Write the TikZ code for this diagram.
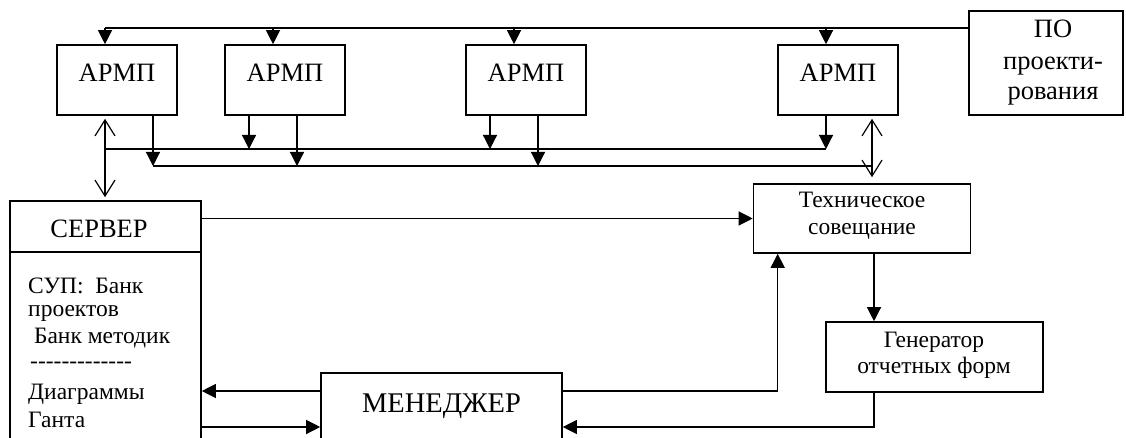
\documentclass[tikz,border=0pt]{standalone}
\usepackage{fontspec}
\setmainfont{Liberation Serif}
\usetikzlibrary{arrows.meta}
\newcommand{\hyph}{-{}}
\begin{document}
\begin{tikzpicture}[x=1pt,y=-1pt,
  box/.style={draw, line width=1.6pt, inner sep=0pt},
  conn/.style={line width=1.2pt},
  tri/.style={-{Triangle[length=14pt,width=14pt]}},
  dbl/.style={{Straight Barb[length=16pt,width=20pt]}-{Straight Barb[length=16pt,width=20pt]}},
  big/.style={font=\fontsize{26.5}{31}\selectfont, inner sep=0pt},
  small/.style={font=\fontsize{23.5}{27}\selectfont, inner sep=0pt},
  huge/.style={font=\fontsize{28.5}{33}\selectfont, inner sep=0pt},
]
\useasboundingbox (0,0) rectangle (1126,438);
\clip (0,0) rectangle (1126,438);

% boxes
\node[box, minimum width=120pt, minimum height=70pt] (a1) at (117,80) {};
\node[box, minimum width=120pt, minimum height=70pt] (a2) at (285,80) {};
\node[box, minimum width=120pt, minimum height=70pt] (a3) at (526,80) {};
\node[box, minimum width=120pt, minimum height=70pt] (a4) at (838,80) {};
\node[box, minimum width=154pt, minimum height=104pt] (po) at (1046,63) {};
\node[box, minimum width=191pt, minimum height=269pt] (server) at (105.5,335.5) {};
\node[box, minimum width=217pt, minimum height=69pt] (techn) at (862,218.5) {};
\node[box, minimum width=217pt, minimum height=70pt] (gen) at (934.5,357) {};
\node[box, minimum width=241pt, minimum height=97pt] (mgr) at (441.5,421.5) {};

% server divider
\coordinate (div) at (0,252);
\draw[line width=1.6pt] (server.west |- div) -- (server.east |- div);

% texts
\node[big, anchor=base] (t1) at (117,82) {АРМП};
\node[big, anchor=base] (t2) at (285,82) {АРМП};
\node[big, anchor=base] (t3) at (526,82) {АРМП};
\node[big, anchor=base] (t4) at (838,82) {АРМП};
\node[big, anchor=base] (p1) at (1053,38) {ПО};
\node[big, anchor=base] (p2) at (1053,70) {проекти-};
\node[big, anchor=base] (p3) at (1053,100) {рования};
\node[big, anchor=base] (st) at (99,238) {СЕРВЕР};
\node[small, anchor=base west] (s1) at (28,293) {СУП:\ \ Банк};
\node[small, anchor=base west] (s2) at (28,316) {проектов};
\node[small, anchor=base west] (s3) at (28,343) {\ Банк методик};
\node[small, anchor=base west] (s4) at (30,368) {\hyph\hyph\hyph\hyph\hyph\hyph\hyph\hyph\hyph\hyph\hyph\hyph\hyph};
\node[small, anchor=base west] (s5) at (28,399) {Диаграммы};
\node[small, anchor=base west] (s6) at (28,427) {Ганта};
\node[small, anchor=base] (e1) at (862,208) {Техническое};
\node[small, anchor=base] (e2) at (862,235) {совещание};
\node[small, anchor=base] (g1) at (934,347) {Генератор};
\node[small, anchor=base] (g2) at (934,373) {отчетных форм};
\node[huge, anchor=base] (mt) at (441.5,412) {МЕНЕДЖЕР};

% top distribution line
\coordinate (tl) at (105,28);
\draw[conn] (po.west |- tl) -- (tl);
\draw[conn,tri] (tl) -- (tl |- a1.north);
\draw[conn,tri] ([xshift=-12pt]a2.north |- tl) -- ([xshift=-12pt]a2.north);
\draw[conn,tri] ([xshift=-12pt]a3.north |- tl) -- ([xshift=-12pt]a3.north);
\draw[conn,tri] ([xshift=-12pt]a4.north |- tl) -- ([xshift=-12pt]a4.north);

% buses
\coordinate (ub) at (0,149);
\coordinate (lb) at (0,166);
\draw[conn] (tl |- ub) -- ([xshift=-12pt]a4.south |- ub);
\draw[conn] ([xshift=36pt]a1.south |- lb) -- ([xshift=34pt]a4.south |- lb);

\draw[conn,tri] ([xshift=36pt]a1.south) -- ([xshift=36pt]a1.south |- lb);
\draw[conn,tri] ([xshift=-36pt]a2.south) -- ([xshift=-36pt]a2.south |- ub);
\draw[conn,tri] ([xshift=12pt]a2.south) -- ([xshift=12pt]a2.south |- lb);
\draw[conn,tri] ([xshift=-36pt]a3.south) -- ([xshift=-36pt]a3.south |- ub);
\draw[conn,tri] ([xshift=12pt]a3.south) -- ([xshift=12pt]a3.south |- lb);
\draw[conn,tri] ([xshift=-12pt]a4.south) -- ([xshift=-12pt]a4.south |- ub);

% double arrows
\draw[conn,dbl,shorten <=3pt,shorten >=3pt] (tl |- a1.south) -- (tl |- server.north);
\draw[conn,dbl,shorten <=3pt,shorten >=6pt] ([xshift=34pt]a4.south) -- ([xshift=34pt]a4.south |- techn.north);

% lower connections
\coordinate (m1) at (0,391);
\coordinate (m2) at (0,427);
\draw[conn,tri] (server.east |- techn.west) -- (techn.west);
\draw[conn,tri] (mgr.west |- m1) -- (server.east |- m1);
\draw[conn,tri] (server.east |- m2) -- (mgr.west |- m2);
\draw[conn,tri] (mgr.east |- m1) -| ([xshift=25pt]techn.south west);
\draw[conn,tri] ([xshift=12pt]techn.south) -- ([xshift=12pt]techn.south |- gen.north);
\draw[conn,tri] ([xshift=12pt]techn.south |- gen.south) |- (mgr.east |- m2);
\end{tikzpicture}
\end{document}
